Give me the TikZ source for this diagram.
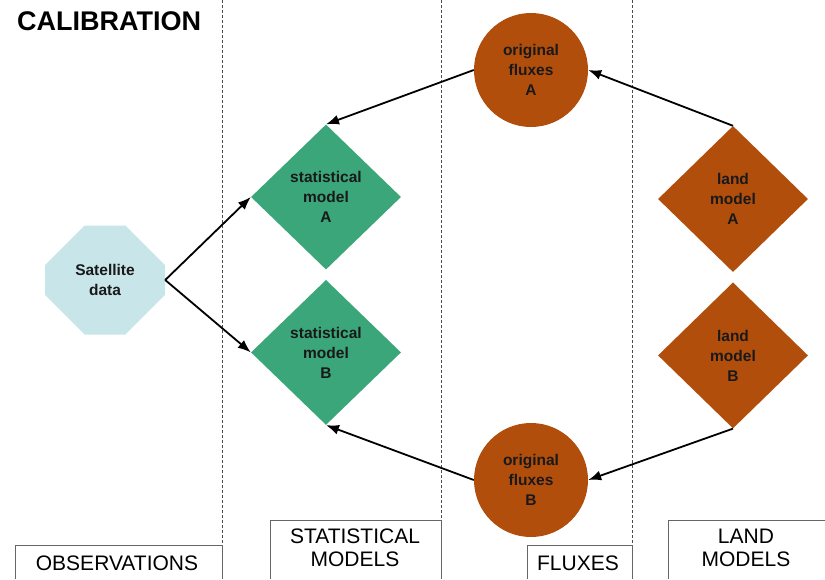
\documentclass[tikz,border=0pt]{standalone}
\usepackage{fontspec}
\setmainfont{Liberation Sans}
\usetikzlibrary{positioning,shapes.geometric,shapes.misc,arrows.meta}

\definecolor{satblue}{RGB}{200,230,234}
\definecolor{statgreen}{RGB}{58,166,122}
\definecolor{landbrown}{RGB}{178,78,12}

\begin{document}
\begin{tikzpicture}[x=1pt,y=-1pt]
		\tikzstyle{txt}=[font=\fontsize{15.5}{20}\selectfont\bfseries, text=black!90, align=center, inner sep=0pt]
		\tikzstyle{stat}=[txt, diamond, fill=statgreen, minimum width=150pt, minimum height=145pt]
		\tikzstyle{land}=[txt, diamond, fill=landbrown, minimum width=150pt, minimum height=146pt]
		\tikzstyle{flux}=[txt, circle, fill=landbrown, minimum size=114pt]
		\tikzstyle{connect}=[-{Latex[length=13pt,width=10pt]}, line width=1.8pt]
		\tikzstyle{divider}=[dash pattern=on 3pt off 2pt, line width=0.8pt, black!70]
		\tikzstyle{colbox}=[line width=0.8pt, black!60]
		\tikzstyle{collabel}=[font=\fontsize{21}{23}\selectfont, align=center, inner sep=0pt]
		\useasboundingbox (0,0) rectangle (825,579);
		
		\node[font=\fontsize{27}{29}\selectfont\bfseries, anchor=west, inner sep=0pt] (title) at (17,21) {CALIBRATION};
		
		%\draw[divider] (222,0) -- (222,545);
		\draw[divider] (222,0) -- (222,545);
		\draw[divider] (441,0) -- (441,520);
		\draw[divider] (632,0) -- (632,545);
		
		\node[txt, chamfered rectangle, chamfered rectangle xsep=18pt, chamfered rectangle ysep=24pt, fill=satblue, minimum width=120pt, minimum height=109pt] (sat) at (105,280) {Satellite\\data};
		
		\node[stat] (statA) at (326,197) {statistical\\model\\A};
		\node[stat] (statB) [below=10pt of statA] {statistical\\model\\B};
		
		\node[flux] (origA) at (531,70) {original\\fluxes\\A};
		\node[flux] (origB) at (531,480) {original\\fluxes\\B};
		
		\node[land] (landA) at (733,199) {land\\model\\A};
		\node[land] (landB) [below=10pt of landA] {land\\model\\B};
		
		\path (sat.east) edge [connect] (statA.west);
		\path (sat.east) edge [connect] (statB.west);
		
		\path (landA.north) edge [connect] (origA.east);
		\path (origA.west) edge [connect] (statA.north);
		\path (landB.south) edge [connect] (origB.east);
		\path (origB.west) edge [connect] (statB.south);
		
		\draw[colbox] (15,579) |- (222,545) -- (222,579);
		\draw[colbox] (270,579) |- (441,520) -- (441,579);
		\draw[colbox] (527,579) |- (632,545) -- (632,579);
		\draw[colbox] (668,579) |- (825,520);
		
		\node[collabel] (obs) at (117,563) {OBSERVATIONS};
		\node[collabel] (statlab) at (355,548) {STATISTICAL\\MODELS};
		\node[collabel] (fluxlab) at (578,563) {FLUXES};
		\node[collabel] (landlab) at (746,548) {LAND\\MODELS};
		
	\end{tikzpicture}
\end{document}
